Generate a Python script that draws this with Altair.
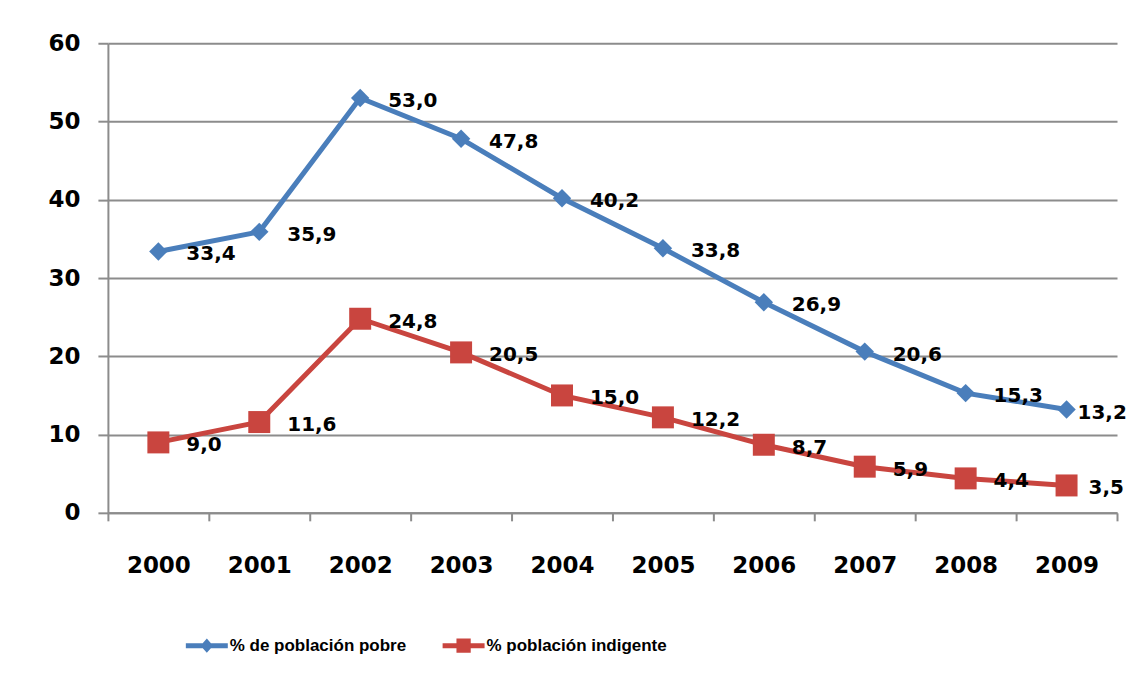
import altair as alt
import pandas as pd

years = [2000, 2001, 2002, 2003, 2004, 2005, 2006, 2007, 2008, 2009]
pobre = [33.4, 35.9, 53.0, 47.8, 40.2, 33.8, 26.9, 20.6, 15.3, 13.2]
indigente = [9.0, 11.6, 24.8, 20.5, 15.0, 12.2, 8.7, 5.9, 4.4, 3.5]
series_names = ["% de población pobre", "% población indigente"]
line_colors = ["#4A7EBB", "#C9453F"]
y_ticks = [0, 10, 20, 30, 40, 50, 60]

df = pd.DataFrame({
    "year": years * 2,
    "value": pobre + indigente,
    "series": [series_names[0]] * len(years) + [series_names[1]] * len(years),
})

GRID = "#8c8c8c"
AXFONT = "DejaVu Sans"

x_enc = alt.X(
    "year:Q",
    scale=alt.Scale(domain=[years[0] - 0.5, years[-1] + 0.5], nice=False, zero=False),
    axis=alt.Axis(
        values=[y - 0.5 for y in years] + [years[-1] + 0.5],
        labelExpr="datum.value > 2009 ? '' : toString(datum.value + 0.5)",
        labelOffset={"condition": {"test": "datum.value > 2009", "value": 0}, "value": 50.5},
        tickSize=8, tickColor=GRID, tickWidth=2,
        domainColor=GRID, domainWidth=2,
        grid=False,
        labelFont=AXFONT, labelFontWeight="bold", labelFontSize=23, labelColor="black",
        labelPadding=34, labelOverlap=False, labelFlush=False, labelBound=False,
        title=None,
    ),
)
y_enc = alt.Y(
    "value:Q",
    scale=alt.Scale(domain=[0, 60], nice=False),
    axis=alt.Axis(
        values=y_ticks,
        tickSize=10, tickColor=GRID, tickWidth=2,
        domainColor=GRID, domainWidth=2,
        grid=True, gridColor=GRID, gridWidth=2,
        labelFont=AXFONT, labelFontWeight="bold", labelFontSize=23, labelColor="black",
        labelPadding=18, title=None,
    ),
)

diamond_path = "M-1,-0.12H1V0.12H-1Z M0,-0.34L0.3,0L0,0.34L-0.3,0Z"
square_path = "M-1,-0.12H1V0.12H-1Z M-0.34,-0.34H0.34V0.34H-0.34Z"

leg = alt.Legend(
    title=None, orient="none", legendX=78, legendY=582, direction="horizontal",
    symbolSize=1764, symbolStrokeWidth=0,
    labelFont="Liberation Sans",
    labelFontWeight="bold", labelFontSize=17, labelColor="black",
    labelOffset=2, columnPadding=36, labelLimit=400,
)

color_enc = alt.Color("series:N", scale=alt.Scale(domain=series_names, range=line_colors), legend=leg)
shape_enc = alt.Shape("series:N", scale=alt.Scale(domain=series_names, range=[diamond_path, square_path]), legend=leg)

base = alt.Chart(df)

lines = base.mark_line(strokeWidth=5).encode(x=x_enc, y=y_enc, color=color_enc)

pts_pobre = base.transform_filter(alt.datum.series == series_names[0]).mark_point(
    shape="diamond", filled=True, size=340, opacity=1
).encode(x=x_enc, y=y_enc, color=color_enc)

pts_ind = base.transform_filter(alt.datum.series == series_names[1]).mark_point(
    shape="square", filled=True, size=484, opacity=1
).encode(x=x_enc, y=y_enc, color=color_enc)

lab_calc = "replace(format(datum.value, '.1f'), '.', ',')"
text_props = dict(align="left", baseline="middle", dy=3,
                  font=AXFONT, fontWeight="bold", fontSize=20, color="black")

labels_main = base.transform_filter(alt.datum.year < years[-1]).transform_calculate(
    lab=lab_calc
).mark_text(dx=28, **text_props).encode(x=x_enc, y=y_enc, text="lab:N")

labels_last_pobre = base.transform_filter(
    (alt.datum.year == years[-1]) & (alt.datum.series == series_names[0])
).transform_calculate(lab=lab_calc).mark_text(dx=11, **text_props).encode(
    x=x_enc, y=y_enc, text="lab:N")

labels_last_ind = base.transform_filter(
    (alt.datum.year == years[-1]) & (alt.datum.series == series_names[1])
).transform_calculate(lab=lab_calc).mark_text(dx=22, **text_props).encode(
    x=x_enc, y=y_enc, text="lab:N")

legend_layer = base.mark_point(filled=True, opacity=0).encode(
    x=x_enc, y=y_enc, color=color_enc, shape=shape_enc,
)

chart = alt.layer(
    legend_layer, lines, pts_pobre, pts_ind, labels_main, labels_last_pobre, labels_last_ind
).properties(
    width=1010, height=470,
    padding={"left": 39, "top": 24, "right": 0, "bottom": 0},
    background="white",
).configure_view(stroke=None)

chart.save("out.html", embed_options={"renderer": "svg", "actions": False})
